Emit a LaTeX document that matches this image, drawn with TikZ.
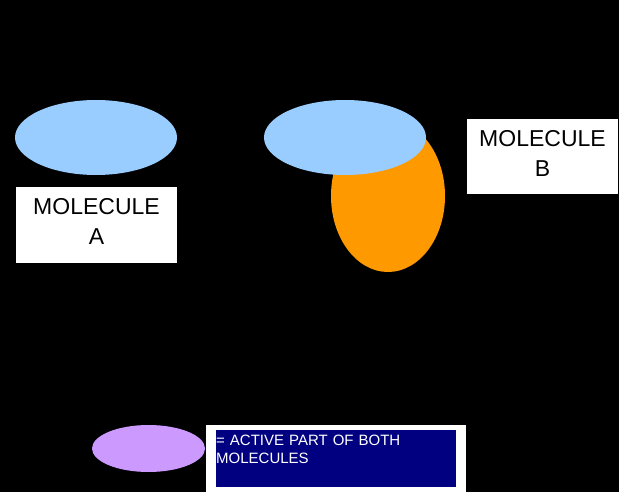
\documentclass[tikz,border=0pt]{standalone}
\usepackage{fontspec}
\setmainfont{Liberation Sans}
\usetikzlibrary{shapes.geometric}
\definecolor{lblue}{HTML}{99CCFF}
\definecolor{orng}{HTML}{FF9900}
\definecolor{lpurp}{HTML}{CC99FF}
\definecolor{navyc}{HTML}{000080}
\tikzset{
  blob/.style={ellipse, draw=none, inner sep=0pt},
  labelbox/.style={rectangle, fill=white, draw=none, align=center, inner sep=0pt,
    font=\fontsize{23pt}{30pt}\selectfont, text=black},
}
\begin{document}
\begin{tikzpicture}[x=1pt,y=-1pt]
\fill[black] (0,0) rectangle (619,492);
\useasboundingbox (0,0) rectangle (619,492);
% Molecule A
\node[blob, fill=lblue, minimum width=162pt, minimum height=75pt] (ellA) at (96,137.5) {};
\node[labelbox, minimum width=161pt, minimum height=76pt] (boxA) at (96.5,225) {};
\node[labelbox] (txtA) at (96.5,221) {MOLECULE\\A};
% Molecule B
\node[blob, fill=orng, minimum width=114pt, minimum height=152pt] (ellO) at (388,196) {};
\node[blob, fill=lblue, minimum width=162pt, minimum height=75pt] (ellB) at (345,137.5) {};
\node[labelbox, minimum width=151pt, minimum height=75pt] (boxB) at (542.5,156.5) {};
\node[labelbox] (txtB) at (542.5,153) {MOLECULE\\B};
% Legend
\node[blob, fill=lpurp, minimum width=113pt, minimum height=47pt] (ellP) at (148.5,448.5) {};
\node[rectangle, fill=white, draw=none, anchor=north west, minimum width=260pt, minimum height=67pt, inner sep=0pt] (legW) at (206,425) {};
\node[rectangle, fill=navyc, draw=none, anchor=north west, minimum width=240pt, minimum height=57pt, inner sep=0pt] (legN) at (216,430) {};
\node[anchor=north west, inner sep=0pt, text width=238pt, align=left, text=white,
  font=\fontsize{15pt}{18pt}\selectfont] (legT) at (216,435) {= ACTIVE PART OF BOTH\\MOLECULES};
\end{tikzpicture}
\end{document}
